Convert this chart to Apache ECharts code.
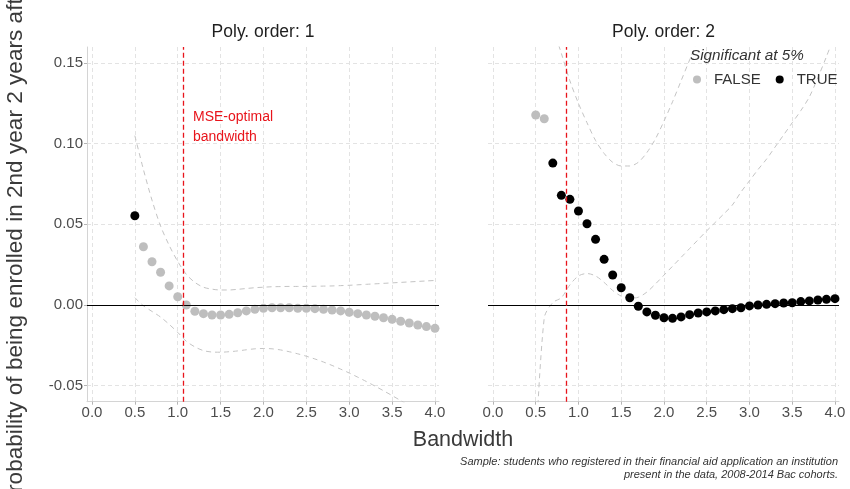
<!DOCTYPE html>
<html>
<head>
<meta charset="utf-8">
<script src="https://cdn.jsdelivr.net/npm/echarts@6/dist/echarts.min.js"></script>
<style>html,body{margin:0;padding:0;background:#fff}#chart{width:850px;height:489px}</style>
</head>
<body>
<div id="chart"></div>
<script>
// ---------------- data ----------------
const bandwidth = [0.5,0.6,0.7,0.8,0.9,1.0,1.1,1.2,1.3,1.4,1.5,1.6,1.7,1.8,1.9,2.0,2.1,2.2,2.3,2.4,2.5,2.6,2.7,2.8,2.9,3.0,3.1,3.2,3.3,3.4,3.5,3.6,3.7,3.8,3.9,4.0];
const xTicks = [0,0.5,1,1.5,2,2.5,3,3.5,4];
const yTicks = [-0.05,0,0.05,0.10,0.15];
const panelTitles = ['Poly. order: 1','Poly. order: 2'];
const mseBandwidth = [1.07, 0.86];

// Poly order 1
const est1 = [0.0553,0.0361,0.0268,0.0203,0.0118,0.0051,
  0.0000,-0.0039,-0.0054,-0.0062,-0.0062,-0.0058,-0.0048,-0.0037,-0.0027,-0.0021,
  -0.0017,-0.0017,-0.0017,-0.0021,-0.0021,-0.0023,-0.0027,-0.0031,-0.0037,-0.0045,
  -0.0054,-0.0062,-0.0070,-0.0079,-0.0089,-0.0101,-0.0112,-0.0124,-0.0134,-0.0145];
const sig1 = [true,false,false,false,false,false,false,false,false,false,false,false,false,false,false,false,false,false,
  false,false,false,false,false,false,false,false,false,false,false,false,false,false,false,false,false,false];
const ciHigh1 = [0.105,0.084,0.065,0.049,0.037,0.027,0.019,0.014,0.011,0.0098,0.0093,0.0093,0.0097,0.0102,0.0107,0.0110,
  0.0113,0.0114,0.0115,0.0115,0.0115,0.0116,0.0117,0.0118,0.0120,0.0122,0.0125,0.0128,0.0131,0.0134,0.0137,0.0140,0.0143,0.0146,0.0149,0.0152];
const ciLow1 = [0.0045,-0.0005,-0.004,-0.0075,-0.012,-0.017,-0.0225,-0.026,-0.0283,-0.0292,-0.0293,-0.0290,-0.0285,-0.0278,-0.0272,-0.0270,
  -0.0272,-0.0279,-0.0290,-0.0303,-0.0318,-0.0335,-0.0354,-0.0375,-0.0398,-0.0422,-0.0448,-0.0475,-0.0503,-0.0532,-0.0562,-0.0593,-0.0625,-0.0658,-0.0692,-0.0727];

// Poly order 2
const est2 = [0.1178,0.1155,0.0880,0.0680,0.0655,0.0583,
  0.0504,0.0407,0.0283,0.0186,0.0107,0.0045,-0.0008,-0.0043,-0.0064,-0.0079,
  -0.0083,-0.0074,-0.0060,-0.0050,-0.0043,-0.0037,-0.0029,-0.0023,-0.0017,-0.0006,
  0.0000,0.0004,0.0008,0.0012,0.0014,0.0021,0.0025,0.0031,0.0035,0.0039];
const sig2 = [false,false,true,true,true,true,true,true,true,true,true,true,true,true,true,true,true,true,
  true,true,true,true,true,true,true,true,true,true,true,true,true,true,true,true,true,true];
const ciHigh2 = [null,null,0.172,0.156,0.139,0.125,0.113,0.102,0.094,0.0885,0.0862,0.0862,0.0885,0.0945,0.103,0.114,
  0.126,0.139,0.152,0.165,0.178,0.191,null,null,null,null,null,null,null,null,null,null,null,null,null,null];
const ciLow2 = [-0.090,-0.008,0.0015,0.0045,0.0125,0.0180,0.0195,0.0180,0.0140,0.0090,0.0055,0.0042,0.0048,0.0080,0.0130,0.0185,
  0.0240,0.0295,0.0350,0.0405,0.0460,0.0512,0.0565,0.0620,0.0700,0.0770,0.0840,0.0905,0.0980,0.1055,0.1130,0.1205,0.1290,0.1410,0.1540,0.1680];

const panels = [
  {est: est1, sig: sig1, hi: ciHigh1, lo: ciLow1},
  {est: est2, sig: sig2, hi: ciHigh2, lo: ciLow2}
];

// ---------------- chart ----------------
const FONT = 'Liberation Sans, Arial, sans-serif';
const gridBoxes = [{left:87, width:352}, {left:488, width:351}];
const chart = echarts.init(document.getElementById('chart'), null, {renderer:'canvas'});

const grids = gridBoxes.map(g => ({left:g.left, width:g.width, top:47, height:354.7, containLabel:false}));
const xAxes = [0,1].map(i => ({
  gridIndex:i, type:'value', min:-0.058, max:4.047,
  axisLine:{show:true, onZero:false, lineStyle:{color:'#d4d4d4', width:1}},
  axisTick:{show:true, length:3, customValues:xTicks, lineStyle:{color:'#b5b5b5'}},
  axisLabel:{customValues:xTicks, formatter:v=>v.toFixed(1), fontSize:15, color:'#4d4d4d', margin:4, fontFamily:FONT},
  splitLine:{show:true, lineStyle:{type:[4,3], color:'#e3e3e3', width:1}}
}));
const yAxes = [0,1].map(i => ({
  gridIndex:i, type:'value', min:-0.06, max:0.16,
  axisLine:{show:i===0, onZero:false, lineStyle:{color:'#d4d4d4', width:1}},
  axisTick:{show:i===0, length:3, customValues:yTicks, lineStyle:{color:'#b5b5b5'}},
  axisLabel:{show:i===0, customValues:yTicks, formatter:v=>v.toFixed(2), fontSize:15, color:'#4d4d4d', margin:4, fontFamily:FONT},
  splitLine:{show:true, lineStyle:{type:[4,3], color:'#e3e3e3', width:1}}
}));

const series = [];
panels.forEach((p, i) => {
  const ciStyle = {color:'#c4c4c4', width:1, type:[5,4]};
  series.push({
    type:'line', xAxisIndex:i, yAxisIndex:i, smooth:0.3, symbol:'none', silent:true,
    data: bandwidth.map((b,k)=>[b,p.hi[k]]).filter(d=>d[1]!==null),
    lineStyle:ciStyle, z:1
  });
  series.push({
    type:'line', xAxisIndex:i, yAxisIndex:i, smooth:0.3, symbol:'none', silent:true,
    data: bandwidth.map((b,k)=>[b,p.lo[k]]).filter(d=>d[1]!==null),
    lineStyle:ciStyle, z:1,
    markLine:{
      silent:true, symbol:['none','none'], label:{show:false}, animation:false,
      data:[
        {yAxis:0, lineStyle:{color:'#000', type:'solid', width:1.2}},
        {xAxis:mseBandwidth[i], lineStyle:{color:'#e8141b', type:[5,3], width:1.3}}
      ]
    }
  });
  series.push({
    name:'FALSE', type:'scatter', xAxisIndex:i, yAxisIndex:i, symbol:'circle', symbolSize:9,
    itemStyle:{color:'#bebebe', opacity:1}, z:3,
    data: bandwidth.map((b,k)=>[b,p.est[k],p.sig[k]]).filter(d=>!d[2]).map(d=>[d[0],d[1]])
  });
  series.push({
    name:'TRUE', type:'scatter', xAxisIndex:i, yAxisIndex:i, symbol:'circle', symbolSize:9,
    itemStyle:{color:'#000000', opacity:1}, z:3,
    data: bandwidth.map((b,k)=>[b,p.est[k],p.sig[k]]).filter(d=>d[2]).map(d=>[d[0],d[1]])
  });
});

const txt = (x, y, text, o) => ({type:'text', x, y, silent:true, z:10,
  style:Object.assign({text, fontFamily:FONT, fill:'#333', align:'center', verticalAlign:'middle'}, o||{})});

const graphics = [
  txt(263, 32, panelTitles[0], {fontSize:17.5, fill:'#1f1f1f'}),
  txt(663.5, 32, panelTitles[1], {fontSize:17.5, fill:'#1f1f1f'}),
  txt(463, 440, 'Bandwidth', {fontSize:21.5, fill:'#3a3a3a'}),
  Object.assign(txt(16, 220, 'Probability of being enrolled in 2nd year 2 years after Bac', {fontSize:22.6, fill:'#3a3a3a'}), {rotation:Math.PI/2}),
  txt(193, 117, 'MSE-optimal', {fontSize:14, fill:'#e8141b', align:'left'}),
  txt(193, 137, 'bandwidth', {fontSize:14, fill:'#e8141b', align:'left'}),
  txt(690, 56, 'Significant at 5%', {fontSize:15.3, fontStyle:'italic', fill:'#333', align:'left'}),
  txt(838, 462, 'Sample: students who registered in their financial aid application an institution', {fontSize:11, fontStyle:'italic', fill:'#333', align:'right'}),
  txt(838, 475, 'present in the data, 2008-2014 Bac cohorts.', {fontSize:11, fontStyle:'italic', fill:'#333', align:'right'})
];

chart.setOption({
  animation:false,
  backgroundColor:'#ffffff',
  textStyle:{fontFamily:FONT},
  grid:grids, xAxis:xAxes, yAxis:yAxes, series,
  legend:{
    data:['FALSE','TRUE'], left:693, top:72, padding:0, itemGap:15, itemWidth:8, itemHeight:8,
    icon:'circle', selectedMode:false,
    textStyle:{fontSize:15, color:'#333', fontFamily:FONT, padding:[0,0,0,8]}
  },
  graphic:graphics
});
</script>
</body>
</html>
